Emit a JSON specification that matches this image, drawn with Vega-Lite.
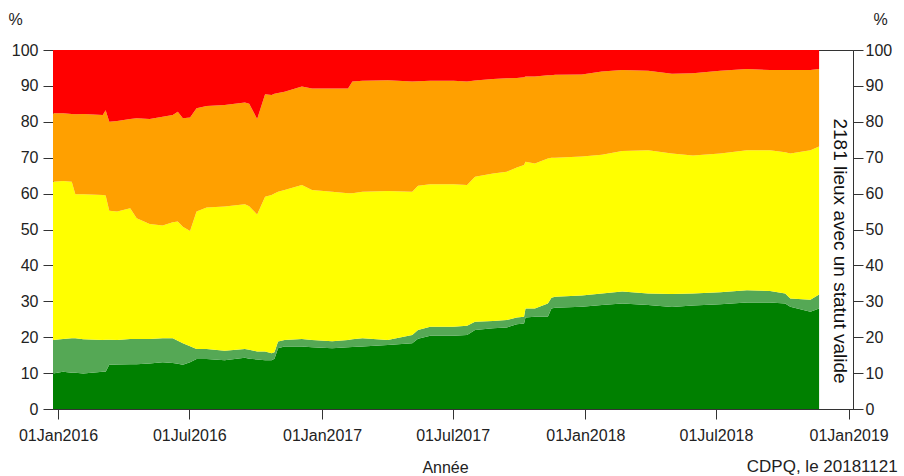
{
  "$schema": "https://vega.github.io/schema/vega-lite/v6.json",
  "autosize": {"type": "none"},
  "width": 800,
  "height": 359,
  "padding": {"left": 53, "top": 50, "right": 51, "bottom": 67},
  "config": {
    "font": "Liberation Sans",
    "view": {"stroke": "#333333", "strokeWidth": 1},
    "axis": {"domainColor": "#333333", "tickColor": "#333333", "labelColor": "#222222", "titleColor": "#222222", "labelFontSize": 16, "titleFontSize": 16, "titleFontWeight": "normal", "grid": false, "tickSize": 10}
  },
  "title": {"text": "CDPQ, le 20181121", "orient": "bottom", "anchor": "end", "frame": "bounds", "fontSize": 17, "fontWeight": "normal", "color": "#222222", "baseline": "top", "offset": -16, "dx": 6},
  "data": {"values": [
    {"d":"2015-12-25","n":1,"p":9.9},{"d":"2015-12-25","n":2,"p":9.3},{"d":"2015-12-25","n":3,"p":44.1},{"d":"2015-12-25","n":4,"p":19.1},{"d":"2015-12-25","n":5,"p":17.6},
    {"d":"2016-01-08","n":1,"p":10.4},{"d":"2016-01-08","n":2,"p":9.1},{"d":"2016-01-08","n":3,"p":44.0},{"d":"2016-01-08","n":4,"p":18.9},{"d":"2016-01-08","n":5,"p":17.6},
    {"d":"2016-01-20","n":1,"p":10.1},{"d":"2016-01-20","n":2,"p":9.6},{"d":"2016-01-20","n":3,"p":43.6},{"d":"2016-01-20","n":4,"p":18.9},{"d":"2016-01-20","n":5,"p":17.8},
    {"d":"2016-01-25","n":1,"p":10.1},{"d":"2016-01-25","n":2,"p":9.6},{"d":"2016-01-25","n":3,"p":40.1},{"d":"2016-01-25","n":4,"p":22.3},{"d":"2016-01-25","n":5,"p":17.9},
    {"d":"2016-02-05","n":1,"p":9.9},{"d":"2016-02-05","n":2,"p":9.5},{"d":"2016-02-05","n":3,"p":40.4},{"d":"2016-02-05","n":4,"p":22.4},{"d":"2016-02-05","n":5,"p":17.8},
    {"d":"2016-03-03","n":1,"p":10.4},{"d":"2016-03-03","n":2,"p":8.8},{"d":"2016-03-03","n":3,"p":40.4},{"d":"2016-03-03","n":4,"p":22.3},{"d":"2016-03-03","n":5,"p":18.1},
    {"d":"2016-03-07","n":1,"p":10.4},{"d":"2016-03-07","n":2,"p":8.9},{"d":"2016-03-07","n":3,"p":40.2},{"d":"2016-03-07","n":4,"p":23.7},{"d":"2016-03-07","n":5,"p":16.8},
    {"d":"2016-03-12","n":1,"p":12.3},{"d":"2016-03-12","n":2,"p":7.0},{"d":"2016-03-12","n":3,"p":35.9},{"d":"2016-03-12","n":4,"p":24.8},{"d":"2016-03-12","n":5,"p":20.0},
    {"d":"2016-03-23","n":1,"p":12.4},{"d":"2016-03-23","n":2,"p":6.8},{"d":"2016-03-23","n":3,"p":35.8},{"d":"2016-03-23","n":4,"p":25.2},{"d":"2016-03-23","n":5,"p":19.8},
    {"d":"2016-04-10","n":1,"p":12.5},{"d":"2016-04-10","n":2,"p":7.0},{"d":"2016-04-10","n":3,"p":36.4},{"d":"2016-04-10","n":4,"p":24.9},{"d":"2016-04-10","n":5,"p":19.2},
    {"d":"2016-04-19","n":1,"p":12.5},{"d":"2016-04-19","n":2,"p":7.0},{"d":"2016-04-19","n":3,"p":33.6},{"d":"2016-04-19","n":4,"p":27.9},{"d":"2016-04-19","n":5,"p":19.0},
    {"d":"2016-05-07","n":1,"p":12.7},{"d":"2016-05-07","n":2,"p":6.8},{"d":"2016-05-07","n":3,"p":32.0},{"d":"2016-05-07","n":4,"p":29.3},{"d":"2016-05-07","n":5,"p":19.2},
    {"d":"2016-05-25","n":1,"p":13.0},{"d":"2016-05-25","n":2,"p":6.7},{"d":"2016-05-25","n":3,"p":31.4},{"d":"2016-05-25","n":4,"p":30.3},{"d":"2016-05-25","n":5,"p":18.6},
    {"d":"2016-06-08","n":1,"p":12.8},{"d":"2016-06-08","n":2,"p":6.9},{"d":"2016-06-08","n":3,"p":32.3},{"d":"2016-06-08","n":4,"p":29.9},{"d":"2016-06-08","n":5,"p":18.1},
    {"d":"2016-06-15","n":1,"p":12.6},{"d":"2016-06-15","n":2,"p":6.4},{"d":"2016-06-15","n":3,"p":33.2},{"d":"2016-06-15","n":4,"p":30.6},{"d":"2016-06-15","n":5,"p":17.2},
    {"d":"2016-06-22","n":1,"p":12.3},{"d":"2016-06-22","n":2,"p":6.0},{"d":"2016-06-22","n":3,"p":32.5},{"d":"2016-06-22","n":4,"p":30.2},{"d":"2016-06-22","n":5,"p":19.0},
    {"d":"2016-07-02","n":1,"p":13.0},{"d":"2016-07-02","n":2,"p":4.5},{"d":"2016-07-02","n":3,"p":32.1},{"d":"2016-07-02","n":4,"p":31.6},{"d":"2016-07-02","n":5,"p":18.8},
    {"d":"2016-07-11","n":1,"p":13.9},{"d":"2016-07-11","n":2,"p":2.8},{"d":"2016-07-11","n":3,"p":38.3},{"d":"2016-07-11","n":4,"p":28.8},{"d":"2016-07-11","n":5,"p":16.2},
    {"d":"2016-07-25","n":1,"p":13.9},{"d":"2016-07-25","n":2,"p":2.8},{"d":"2016-07-25","n":3,"p":39.4},{"d":"2016-07-25","n":4,"p":28.3},{"d":"2016-07-25","n":5,"p":15.6},
    {"d":"2016-08-19","n":1,"p":13.6},{"d":"2016-08-19","n":2,"p":2.6},{"d":"2016-08-19","n":3,"p":40.2},{"d":"2016-08-19","n":4,"p":28.3},{"d":"2016-08-19","n":5,"p":15.3},
    {"d":"2016-09-16","n":1,"p":14.3},{"d":"2016-09-16","n":2,"p":2.4},{"d":"2016-09-16","n":3,"p":40.3},{"d":"2016-09-16","n":4,"p":28.4},{"d":"2016-09-16","n":5,"p":14.6},
    {"d":"2016-09-22","n":1,"p":14.0},{"d":"2016-09-22","n":2,"p":2.5},{"d":"2016-09-22","n":3,"p":40.0},{"d":"2016-09-22","n":4,"p":28.5},{"d":"2016-09-22","n":5,"p":15.0},
    {"d":"2016-10-03","n":1,"p":13.8},{"d":"2016-10-03","n":2,"p":2.2},{"d":"2016-10-03","n":3,"p":38.2},{"d":"2016-10-03","n":4,"p":26.6},{"d":"2016-10-03","n":5,"p":19.2},
    {"d":"2016-10-14","n":1,"p":13.6},{"d":"2016-10-14","n":2,"p":2.4},{"d":"2016-10-14","n":3,"p":43.1},{"d":"2016-10-14","n":4,"p":28.6},{"d":"2016-10-14","n":5,"p":12.3},
    {"d":"2016-10-23","n":1,"p":13.6},{"d":"2016-10-23","n":2,"p":1.9},{"d":"2016-10-23","n":3,"p":44.1},{"d":"2016-10-23","n":4,"p":27.9},{"d":"2016-10-23","n":5,"p":12.5},
    {"d":"2016-10-27","n":1,"p":14.0},{"d":"2016-10-27","n":2,"p":1.8},{"d":"2016-10-27","n":3,"p":44.2},{"d":"2016-10-27","n":4,"p":27.8},{"d":"2016-10-27","n":5,"p":12.2},
    {"d":"2016-11-01","n":1,"p":16.9},{"d":"2016-11-01","n":2,"p":1.9},{"d":"2016-11-01","n":3,"p":41.7},{"d":"2016-11-01","n":4,"p":27.5},{"d":"2016-11-01","n":5,"p":12.0},
    {"d":"2016-11-10","n":1,"p":17.4},{"d":"2016-11-10","n":2,"p":1.8},{"d":"2016-11-10","n":3,"p":41.8},{"d":"2016-11-10","n":4,"p":27.4},{"d":"2016-11-10","n":5,"p":11.6},
    {"d":"2016-12-04","n":1,"p":17.4},{"d":"2016-12-04","n":2,"p":2.1},{"d":"2016-12-04","n":3,"p":42.9},{"d":"2016-12-04","n":4,"p":27.4},{"d":"2016-12-04","n":5,"p":10.2},
    {"d":"2016-12-18","n":1,"p":17.2},{"d":"2016-12-18","n":2,"p":2.0},{"d":"2016-12-18","n":3,"p":41.8},{"d":"2016-12-18","n":4,"p":28.3},{"d":"2016-12-18","n":5,"p":10.7},
    {"d":"2017-01-15","n":1,"p":16.9},{"d":"2017-01-15","n":2,"p":2.0},{"d":"2017-01-15","n":3,"p":41.6},{"d":"2017-01-15","n":4,"p":28.8},{"d":"2017-01-15","n":5,"p":10.7},
    {"d":"2017-02-06","n":1,"p":17.2},{"d":"2017-02-06","n":2,"p":2.0},{"d":"2017-02-06","n":3,"p":40.9},{"d":"2017-02-06","n":4,"p":29.2},{"d":"2017-02-06","n":5,"p":10.7},
    {"d":"2017-02-12","n":1,"p":17.3},{"d":"2017-02-12","n":2,"p":2.1},{"d":"2017-02-12","n":3,"p":40.7},{"d":"2017-02-12","n":4,"p":31.1},{"d":"2017-02-12","n":5,"p":8.8},
    {"d":"2017-02-26","n":1,"p":17.4},{"d":"2017-02-26","n":2,"p":2.3},{"d":"2017-02-26","n":3,"p":40.8},{"d":"2017-02-26","n":4,"p":30.9},{"d":"2017-02-26","n":5,"p":8.6},
    {"d":"2017-04-02","n":1,"p":17.8},{"d":"2017-04-02","n":2,"p":1.4},{"d":"2017-04-02","n":3,"p":41.5},{"d":"2017-04-02","n":4,"p":30.9},{"d":"2017-04-02","n":5,"p":8.4},
    {"d":"2017-05-06","n":1,"p":18.3},{"d":"2017-05-06","n":2,"p":2.3},{"d":"2017-05-06","n":3,"p":39.9},{"d":"2017-05-06","n":4,"p":30.7},{"d":"2017-05-06","n":5,"p":8.8},
    {"d":"2017-05-14","n":1,"p":19.6},{"d":"2017-05-14","n":2,"p":2.4},{"d":"2017-05-14","n":3,"p":40.2},{"d":"2017-05-14","n":4,"p":29.1},{"d":"2017-05-14","n":5,"p":8.7},
    {"d":"2017-05-31","n":1,"p":20.4},{"d":"2017-05-31","n":2,"p":2.5},{"d":"2017-05-31","n":3,"p":39.7},{"d":"2017-05-31","n":4,"p":28.8},{"d":"2017-05-31","n":5,"p":8.6},
    {"d":"2017-07-02","n":1,"p":20.4},{"d":"2017-07-02","n":2,"p":2.5},{"d":"2017-07-02","n":3,"p":39.7},{"d":"2017-07-02","n":4,"p":28.8},{"d":"2017-07-02","n":5,"p":8.6},
    {"d":"2017-07-21","n":1,"p":20.6},{"d":"2017-07-21","n":2,"p":2.6},{"d":"2017-07-21","n":3,"p":39.2},{"d":"2017-07-21","n":4,"p":28.8},{"d":"2017-07-21","n":5,"p":8.8},
    {"d":"2017-08-01","n":1,"p":22.0},{"d":"2017-08-01","n":2,"p":2.3},{"d":"2017-08-01","n":3,"p":40.4},{"d":"2017-08-01","n":4,"p":26.8},{"d":"2017-08-01","n":5,"p":8.5},
    {"d":"2017-08-26","n":1,"p":22.5},{"d":"2017-08-26","n":2,"p":2.0},{"d":"2017-08-26","n":3,"p":41.1},{"d":"2017-08-26","n":4,"p":26.3},{"d":"2017-08-26","n":5,"p":8.1},
    {"d":"2017-09-14","n":1,"p":22.7},{"d":"2017-09-14","n":2,"p":2.1},{"d":"2017-09-14","n":3,"p":41.3},{"d":"2017-09-14","n":4,"p":26.0},{"d":"2017-09-14","n":5,"p":7.9},
    {"d":"2017-09-28","n":1,"p":23.6},{"d":"2017-09-28","n":2,"p":1.9},{"d":"2017-09-28","n":3,"p":41.8},{"d":"2017-09-28","n":4,"p":24.9},{"d":"2017-09-28","n":5,"p":7.8},
    {"d":"2017-10-08","n":1,"p":23.8},{"d":"2017-10-08","n":2,"p":1.9},{"d":"2017-10-08","n":3,"p":42.3},{"d":"2017-10-08","n":4,"p":24.4},{"d":"2017-10-08","n":5,"p":7.6},
    {"d":"2017-10-10","n":1,"p":25.5},{"d":"2017-10-10","n":2,"p":2.5},{"d":"2017-10-10","n":3,"p":40.9},{"d":"2017-10-10","n":4,"p":23.7},{"d":"2017-10-10","n":5,"p":7.4},
    {"d":"2017-10-23","n":1,"p":25.7},{"d":"2017-10-23","n":2,"p":2.3},{"d":"2017-10-23","n":3,"p":40.4},{"d":"2017-10-23","n":4,"p":24.2},{"d":"2017-10-23","n":5,"p":7.4},
    {"d":"2017-11-10","n":1,"p":25.7},{"d":"2017-11-10","n":2,"p":3.7},{"d":"2017-11-10","n":3,"p":40.4},{"d":"2017-11-10","n":4,"p":23.2},{"d":"2017-11-10","n":5,"p":7.0},
    {"d":"2017-11-15","n":1,"p":28.0},{"d":"2017-11-15","n":2,"p":3.0},{"d":"2017-11-15","n":3,"p":39.0},{"d":"2017-11-15","n":4,"p":23.0},{"d":"2017-11-15","n":5,"p":7.0},
    {"d":"2017-11-20","n":1,"p":28.2},{"d":"2017-11-20","n":2,"p":3.1},{"d":"2017-11-20","n":3,"p":38.7},{"d":"2017-11-20","n":4,"p":23.1},{"d":"2017-11-20","n":5,"p":6.9},
    {"d":"2017-12-27","n":1,"p":28.5},{"d":"2017-12-27","n":2,"p":3.1},{"d":"2017-12-27","n":3,"p":38.7},{"d":"2017-12-27","n":4,"p":22.9},{"d":"2017-12-27","n":5,"p":6.8},
    {"d":"2018-01-24","n":1,"p":29.0},{"d":"2018-01-24","n":2,"p":3.2},{"d":"2018-01-24","n":3,"p":38.6},{"d":"2018-01-24","n":4,"p":23.2},{"d":"2018-01-24","n":5,"p":6.0},
    {"d":"2018-02-21","n":1,"p":29.4},{"d":"2018-02-21","n":2,"p":3.3},{"d":"2018-02-21","n":3,"p":39.2},{"d":"2018-02-21","n":4,"p":22.5},{"d":"2018-02-21","n":5,"p":5.6},
    {"d":"2018-03-29","n":1,"p":29.0},{"d":"2018-03-29","n":2,"p":3.2},{"d":"2018-03-29","n":3,"p":39.9},{"d":"2018-03-29","n":4,"p":22.1},{"d":"2018-03-29","n":5,"p":5.8},
    {"d":"2018-05-01","n":1,"p":28.4},{"d":"2018-05-01","n":2,"p":3.6},{"d":"2018-05-01","n":3,"p":39.2},{"d":"2018-05-01","n":4,"p":22.2},{"d":"2018-05-01","n":5,"p":6.6},
    {"d":"2018-05-30","n":1,"p":28.8},{"d":"2018-05-30","n":2,"p":3.4},{"d":"2018-05-30","n":3,"p":38.4},{"d":"2018-05-30","n":4,"p":22.9},{"d":"2018-05-30","n":5,"p":6.5},
    {"d":"2018-07-07","n":1,"p":29.2},{"d":"2018-07-07","n":2,"p":3.3},{"d":"2018-07-07","n":3,"p":38.7},{"d":"2018-07-07","n":4,"p":23.0},{"d":"2018-07-07","n":5,"p":5.8},
    {"d":"2018-08-13","n":1,"p":29.7},{"d":"2018-08-13","n":2,"p":3.4},{"d":"2018-08-13","n":3,"p":39.0},{"d":"2018-08-13","n":4,"p":22.6},{"d":"2018-08-13","n":5,"p":5.3},
    {"d":"2018-09-14","n":1,"p":29.7},{"d":"2018-09-14","n":2,"p":3.2},{"d":"2018-09-14","n":3,"p":39.2},{"d":"2018-09-14","n":4,"p":22.3},{"d":"2018-09-14","n":5,"p":5.6},
    {"d":"2018-10-05","n":1,"p":29.4},{"d":"2018-10-05","n":2,"p":2.8},{"d":"2018-10-05","n":3,"p":39.3},{"d":"2018-10-05","n":4,"p":22.9},{"d":"2018-10-05","n":5,"p":5.6},
    {"d":"2018-10-12","n":1,"p":28.5},{"d":"2018-10-12","n":2,"p":2.3},{"d":"2018-10-12","n":3,"p":40.4},{"d":"2018-10-12","n":4,"p":23.2},{"d":"2018-10-12","n":5,"p":5.6},
    {"d":"2018-11-09","n":1,"p":27.1},{"d":"2018-11-09","n":2,"p":3.3},{"d":"2018-11-09","n":3,"p":41.7},{"d":"2018-11-09","n":4,"p":22.3},{"d":"2018-11-09","n":5,"p":5.6},
    {"d":"2018-11-21","n":1,"p":28.0},{"d":"2018-11-21","n":2,"p":3.9},{"d":"2018-11-21","n":3,"p":41.2},{"d":"2018-11-21","n":4,"p":21.6},{"d":"2018-11-21","n":5,"p":5.3}
  ]},
  "layer": [
    {
      "mark": {"type": "area", "strokeWidth": 0},
      "encoding": {
        "x": {
          "field": "d", "type": "temporal",
          "scale": {"type": "utc", "domain": [{"year": 2015, "month": 12, "date": 25, "utc": true}, {"year": 2019, "month": 1, "date": 7, "utc": true}]},
          "axis": {
            "title": "Année", "format": "%d%b%Y", "labelPadding": 8, "titlePadding": 16, "titleX": 392,
            "values": [
              {"year": 2016, "month": 1, "date": 1, "utc": true},
              {"year": 2016, "month": 7, "date": 1, "utc": true},
              {"year": 2017, "month": 1, "date": 1, "utc": true},
              {"year": 2017, "month": 7, "date": 1, "utc": true},
              {"year": 2018, "month": 1, "date": 1, "utc": true},
              {"year": 2018, "month": 7, "date": 1, "utc": true},
              {"year": 2019, "month": 1, "date": 1, "utc": true}
            ]
          }
        },
        "y": {
          "field": "p", "type": "quantitative", "stack": "zero",
          "scale": {"domain": [0, 100], "nice": false},
          "axis": {"orient": "left", "values": [0,10,20,30,40,50,60,70,80,90,100], "labelPadding": 5, "title": "%", "titleAngle": 0, "titleX": -38, "titleY": -26, "titleAlign": "center", "titleBaseline": "alphabetic"}
        },
        "color": {
          "field": "n", "type": "ordinal",
          "scale": {"domain": [1, 2, 3, 4, 5], "range": ["#008000", "#55a855", "#ffff00", "#ffa000", "#ff0000"]},
          "legend": null
        },
        "order": {"field": "n", "type": "quantitative"}
      }
    },
    {
      "data": {"values": [{"label": "2181 lieux avec un statut valide"}]},
      "mark": {"type": "text", "angle": 90, "align": "center", "baseline": "middle", "fontSize": 19, "color": "#111111"},
      "encoding": {
        "x": {"datum": {"year": 2018, "month": 12, "date": 20, "utc": true}, "type": "temporal"},
        "y": {"datum": 44, "type": "quantitative", "axis": {"orient": "right", "values": [0,10,20,30,40,50,60,70,80,90,100], "labelPadding": 2, "title": "%", "titleAngle": 0, "titleX": 27, "titleY": -26, "titleAlign": "center", "titleBaseline": "alphabetic"}},
        "text": {"field": "label"}
      }
    }
  ],
  "resolve": {"axis": {"y": "independent"}}
}
